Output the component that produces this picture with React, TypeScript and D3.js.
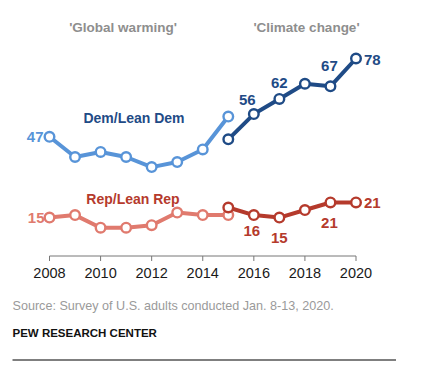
import React from "react";
import * as d3 from "d3";

const gwYears = [2008, 2009, 2010, 2011, 2012, 2013, 2014, 2015];
const demGW = [47, 39, 41, 39, 35, 37, 42, 55];
const repGW = [15, 16, 11, 11, 12, 17, 16, 16];
const ccYears = [2015, 2016, 2017, 2018, 2019, 2020];
const demCC = [46, 56, 62, 68, 67, 78];
const repCC = [19, 16, 15, 18, 21, 21];
const tickYears = [2008, 2010, 2012, 2014, 2016, 2018, 2020];

const C = {
  lightBlue: "#5894d8",
  darkBlue: "#1f4b86",
  lightRed: "#e07a6e",
  darkRed: "#b53a2c",
  gray: "#8e8e8e",
};

const x = d3.scaleLinear().domain([2008, 2020]).range([49.5, 356]);
const y = d3.scaleLinear().domain([0, 78]).range([255.5, 58.5]);

type Pt = [number, number];
const line = d3
  .line<Pt>()
  .x((d) => x(d[0]))
  .y((d) => y(d[1]));

function Series({ years, vals, color }: { years: number[]; vals: number[]; color: string }) {
  const pts: Pt[] = years.map((yr, i) => [yr, vals[i]]);
  return (
    <g>
      <path d={line(pts) || ""} fill="none" stroke={color} strokeWidth={4} strokeLinejoin="round" />
      {pts.map((p, i) => (
        <circle key={i} cx={x(p[0])} cy={y(p[1])} r={4.8} fill="#fff" stroke={color} strokeWidth={2.4} />
      ))}
    </g>
  );
}

const font = "'Liberation Sans', Arial, sans-serif";

export default function App() {
  const numStyle = { fontFamily: font, fontWeight: 700, fontSize: 15 } as const;
  const lbl = (years: number[], vals: number[], i: number, dx: number, dy: number, anchor: string, color: string) => (
    <text
      x={x(years[i]) + dx}
      y={y(vals[i]) + dy}
      textAnchor={anchor as any}
      dominantBaseline="central"
      fill={color}
      style={numStyle}
    >
      {vals[i]}
    </text>
  );
  return (
    <svg width={424} height={378} style={{ position: "absolute", left: 0, top: 0, background: "#fff" }}>
      <text x={123} y={27} textAnchor="middle" dominantBaseline="central" fill={C.gray}
        style={{ fontFamily: font, fontWeight: 700, fontSize: 13.5 }}>'Global warming'</text>
      <text x={306.5} y={27} textAnchor="middle" dominantBaseline="central" fill={C.gray}
        style={{ fontFamily: font, fontWeight: 700, fontSize: 13.5 }}>'Climate change'</text>

      <text x={134} y={118} textAnchor="middle" dominantBaseline="central" fill={C.darkBlue}
        style={{ fontFamily: font, fontWeight: 700, fontSize: 14 }}>Dem/Lean Dem</text>
      <text x={133} y={198.5} textAnchor="middle" dominantBaseline="central" fill={C.darkRed}
        style={{ fontFamily: font, fontWeight: 700, fontSize: 14 }}>Rep/Lean Rep</text>

      <g>
        <line x1={x(2008)} x2={x(2020)} y1={256} y2={256} stroke="#777" strokeWidth={1} />
        {tickYears.map((t) => (
          <g key={t}>
            <line x1={x(t)} x2={x(t)} y1={256} y2={261} stroke="#777" strokeWidth={1} />
            <text x={x(t)} y={273} textAnchor="middle" dominantBaseline="central" fill="#1a1a1a"
              style={{ fontFamily: font, fontSize: 14.5 }}>{t}</text>
          </g>
        ))}
      </g>

      <Series years={gwYears} vals={repGW} color={C.lightRed} />
      <Series years={gwYears} vals={demGW} color={C.lightBlue} />
      <Series years={ccYears} vals={repCC} color={C.darkRed} />
      <Series years={ccYears} vals={demCC} color={C.darkBlue} />

      {lbl(gwYears, demGW, 0, -6, -0.5, "end", C.lightBlue)}
      {lbl(gwYears, repGW, 0, -5, -0.5, "end", C.lightRed)}
      {lbl(ccYears, demCC, 1, -6.5, -14.5, "middle", C.darkBlue)}
      {lbl(ccYears, demCC, 2, 0, -16, "middle", C.darkBlue)}
      {lbl(ccYears, demCC, 4, -1, -21, "middle", C.darkBlue)}
      {lbl(ccYears, demCC, 5, 8, 0.5, "start", C.darkBlue)}
      {lbl(ccYears, repCC, 1, -2, 15, "middle", C.darkRed)}
      {lbl(ccYears, repCC, 2, 0, 19.5, "middle", C.darkRed)}
      {lbl(ccYears, repCC, 4, -1, 20.5, "middle", C.darkRed)}
      {lbl(ccYears, repCC, 5, 8, 0.5, "start", C.darkRed)}

      <text x={12.5} y={306} dominantBaseline="central" fill="#9a9a9a"
        style={{ fontFamily: font, fontSize: 12.6 }}>Source: Survey of U.S. adults conducted Jan. 8-13, 2020.</text>
      <text x={12.5} y={333} dominantBaseline="central" fill="#111"
        style={{ fontFamily: font, fontWeight: 700, fontSize: 11.5 }}>PEW RESEARCH CENTER</text>
      <line x1={12.5} x2={396} y1={360} y2={360} stroke="#555" strokeWidth={1.5} />
    </svg>
  );
}
